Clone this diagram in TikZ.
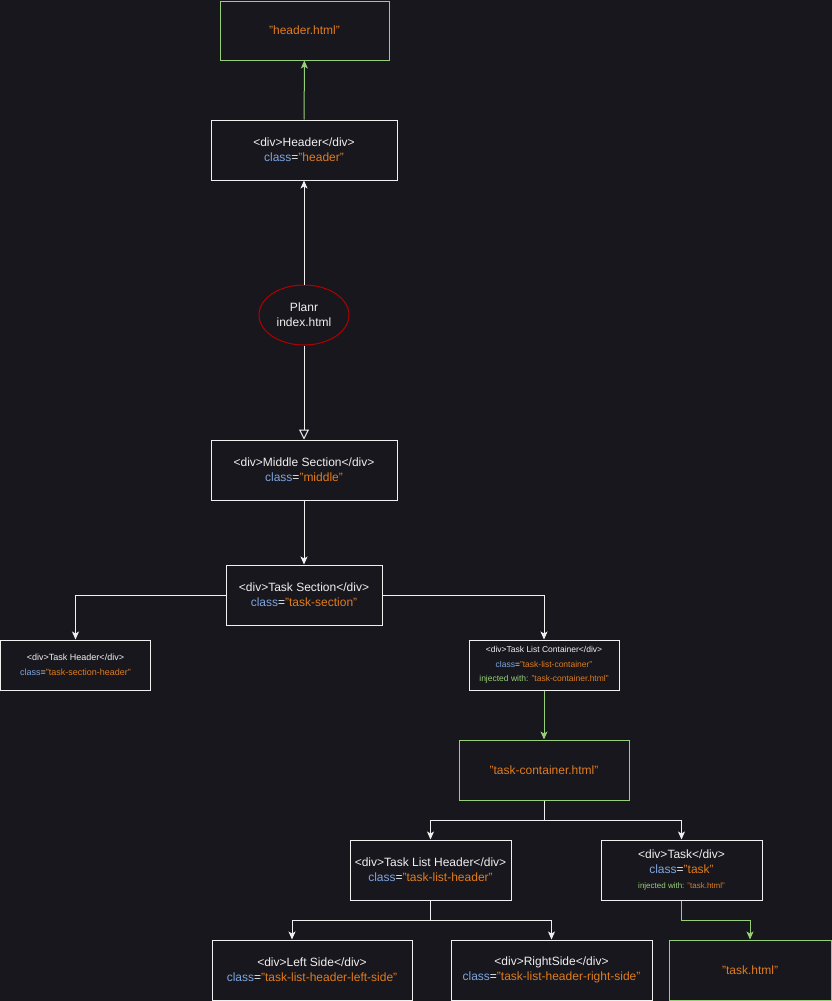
\documentclass[tikz,border=0pt]{standalone}
\usepackage{fontspec}
\setmainfont{Liberation Sans}
\usetikzlibrary{arrows.meta,shapes.geometric}
\definecolor{bg}{HTML}{18171D}
\definecolor{txt}{HTML}{F0F0F0}
\definecolor{clsblue}{HTML}{7EA6E0}
\definecolor{strorange}{HTML}{E07C1E}
\definecolor{injgreen}{HTML}{97D077}
\definecolor{darkred}{HTML}{B20000}
\newcommand{\cls}[1]{\textcolor{clsblue}{class}=\textcolor{strorange}{"#1"}}
\newcommand{\inj}[1]{\textcolor{injgreen}{injected with:} \textcolor{strorange}{"#1"}}
\tikzset{
  blk/.style={draw=txt,line width=1pt,text=txt,align=center,inner sep=2pt,font=\fontsize{12}{15}\selectfont},
  fileblk/.style={draw=injgreen,line width=1pt,text=strorange,align=center,font=\fontsize{12}{15}\selectfont},
  wire/.style={draw=txt,line width=1pt,-{Stealth[length=8pt,width=7pt,inset=2pt]}},
  gwire/.style={draw=injgreen,line width=1pt,-{Stealth[length=8pt,width=7pt,inset=2pt]}},
}
\begin{document}
\begin{tikzpicture}[x=1pt,y=-1pt]
	\fill[bg] (0,0) rectangle (832,1001);
	\useasboundingbox (0,0) rectangle (832,1001);

	% Radice e intestazione
	\node[fileblk,minimum width=169pt,minimum height=59pt] (hfile) at (304.5,30.5) {"header.html"};
	\node[blk,minimum width=186pt,minimum height=60pt] (hdr) at (304,150) {<div>Header</div>\\\cls{header}};
	\node[ellipse,draw=darkred,line width=1pt,text=txt,align=center,minimum width=90pt,minimum height=60pt,font=\fontsize{12}{15}\selectfont] (root) at (304,315) {Planr\\index.html};
	\node[blk,minimum width=186pt,minimum height=60pt] (mid) at (304,470) {<div>Middle Section</div>\\\cls{middle}};
	\node[blk,minimum width=156pt,minimum height=60pt] (tsec) at (304,595) {<div>Task Section</div>\\\cls{task-section}};

	% Secondo livello
	\node[blk,minimum width=150pt,minimum height=50pt,font=\fontsize{9}{15}\selectfont] (thdr) at (75.5,665) {<div>Task Header</div>\\\cls{task-section-header}};
	\node[blk,minimum width=150pt,minimum height=50pt,font=\fontsize{8.5}{14.5}\selectfont] (tlc) at (544,665) {<div>Task List Container</div>\\\cls{task-list-container}\\\inj{task-container.html}};
	\node[fileblk,minimum width=170pt,minimum height=60pt] (tcfile) at (544,770) {"task-container.html"};

	% Contenuto di task-container.html
	\node[blk,minimum width=161pt,minimum height=60pt] (tlh) at (430.5,870) {<div>Task List Header</div>\\\cls{task-list-header}};
	\node[blk,minimum width=161pt,minimum height=60pt] (task) at (681.5,870) {<div>Task</div>\\\cls{task}\\{\fontsize{8}{10}\selectfont\inj{task.html}}};
	\node[blk,minimum width=200pt,minimum height=60pt] (lside) at (312,970) {<div>Left Side</div>\\\cls{task-list-header-left-side}};
	\node[blk,minimum width=201pt,minimum height=60pt] (rside) at (551.5,970) {<div>RightSide</div>\\\cls{task-list-header-right-side}};
	\node[fileblk,minimum width=162pt,minimum height=60pt] (tfile) at (750,970) {"task.html"};

	% Collegamenti
	\draw[gwire] (hdr) -- (hfile);
	\draw[wire] (root) -- (hdr);
	\draw[draw=txt,line width=1pt,-{Triangle[open,length=10pt,width=10pt]}] (root) -- (mid);
	\draw[wire] (mid) -- (tsec);
	\draw[wire] (tsec.west) -| (thdr.north);
	\draw[wire] (tsec.east) -| (tlc.north);
	\draw[gwire] (tlc) -- (tcfile);
	\draw[wire] (tcfile.south) -- ++(0,20) -| (tlh.north);
	\draw[wire] (tcfile.south) -- ++(0,20) -| (task.north);
	\draw[wire] (tlh.south) -- ++(0,20) -| ([xshift=-20pt]lside.north);
	\draw[wire] (tlh.south) -- ++(0,20) -| (rside.north);
	\draw[gwire] (task.south) -- ++(0,20) -| (tfile.north);
\end{tikzpicture}
\end{document}
